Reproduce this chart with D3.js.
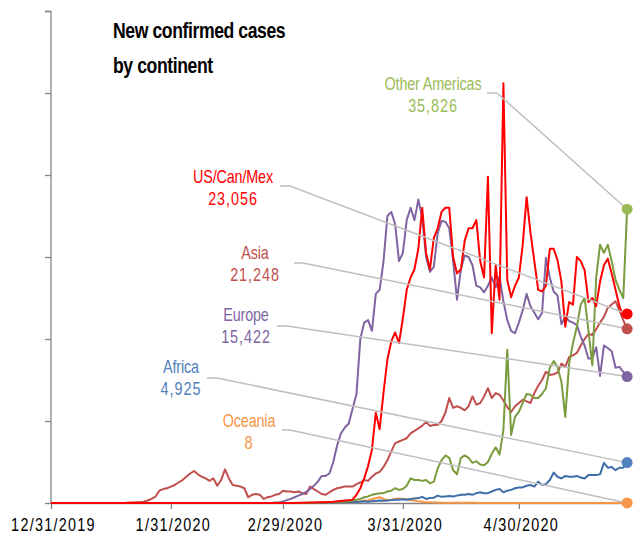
<!DOCTYPE html>
<html>
<head>
<meta charset="utf-8">
<script src="https://cdn.jsdelivr.net/npm/d3@7"></script>
<style>
body { margin: 0; background: #fff; }
svg { display: block; font-family: "Liberation Sans", Arial, sans-serif; }
</style>
</head>
<body>
<div id="chart"></div>
<script>
// daily new confirmed cases, 12/31/2019 .. 5/28/2020 (150 days)
var firstDay = "2019-12-31";
var tickDates = ["2019-12-31", "2020-01-31", "2020-02-29", "2020-03-31", "2020-04-30"];
var yTicks = [0, 10000, 20000, 30000, 40000, 50000, 60000];

var asia = [
  0,0,0,0,0,0,0,0,0,0, 0,0,0,0,0,0,0,0,0,0,
  50,50,100,100,150,300,500,770,1500,1700,
  1800,2000,2200,2500,2800,3200,3600,3900,3500,3200,
  3000,2700,3000,2100,2800,4100,3000,2200,2100,2000,
  1800,700,1000,1100,1000,500,700,800,1000,1100,
  1500,1400,1400,1300,1400,1200,1100,2000,1700,1400,
  1100,1000,1300,1600,1800,1900,2000,2000,2000,2300,
  2500,2800,2700,3200,3600,3800,4400,5200,6300,7300,
  7500,7700,7900,8500,8800,9100,9400,9900,9400,9500,
  9500,10000,11000,12800,11600,11800,11600,11300,11800,13000,
  12000,12200,13000,14000,12800,13400,13200,12500,11700,11100,
  11800,12200,12600,12400,12200,13400,14300,15000,16000,15600,
  15700,15900,17000,16600,17800,18000,18300,19200,20000,20600,
  20500,21200,22000,22700,23800,24200,24600,23500,22300,21248
];
var europe = [
  0,0,0,0,0,0,0,0,0,0, 0,0,0,0,0,0,0,0,0,0,
  0,0,0,0,0,0,0,0,0,0, 0,0,0,0,0,0,0,0,0,0,
  0,0,0,0,0,0,0,0,0,0, 0,0,0,0,0,0,0,0,50,100,
  200,350,500,700,900,1100,1350,1700,2100,2600,
  3300,3300,3600,5000,7000,8500,9200,9700,11500,13300,
  20000,22000,22300,21000,25500,26000,29500,35000,35500,34000,
  29500,30500,34500,36000,34500,37000,34800,30000,28200,28800,
  32900,34400,34300,33500,29500,24800,28500,30200,30000,29000,
  26500,26300,25700,26500,27500,26300,27600,24600,22300,21000,
  20700,22000,23500,25500,24000,23200,22400,23200,29900,27500,
  25800,25300,21800,22700,22200,22000,21700,20300,19200,17600,
  17700,19000,15500,19200,18900,18500,16500,16600,16000,15422
];
var usCanMex = [
  0,0,0,0,0,0,0,0,0,0, 0,0,0,0,0,0,0,0,0,0,
  0,0,0,0,0,0,0,0,0,0, 0,0,0,0,0,0,0,0,0,0,
  0,0,0,0,0,0,0,0,0,0, 0,0,0,0,0,0,0,0,0,0,
  0,0,0,0,20,30,40,50,60,80,
  100,100,120,150,200,250,300,350,400,1000,
  1800,3000,4500,6500,11000,9000,13500,17500,19700,20800,
  19500,22500,26000,27500,28500,31000,36000,30500,28500,32300,
  33500,35500,36000,36000,30000,28000,28500,32000,33500,33500,
  34500,29500,27500,39800,20700,29000,24800,51200,27200,25100,
  26500,27500,31500,37300,33000,29500,26000,25800,26500,31000,
  31000,29600,27000,21500,24500,24200,30000,29500,28400,24500,
  25000,24000,27000,29000,29800,28000,26000,24000,22700,23056
];
var otherAmericas = [
  0,0,0,0,0,0,0,0,0,0, 0,0,0,0,0,0,0,0,0,0,
  0,0,0,0,0,0,0,0,0,0, 0,0,0,0,0,0,0,0,0,0,
  0,0,0,0,0,0,0,0,0,0, 0,0,0,0,0,0,0,0,0,0,
  0,0,0,0,0,10,20,30,30,40,
  50,60,80,100,120,150,180,200,300,400,
  500,700,800,1000,1100,1200,1200,1400,1500,1800,
  1600,1700,2100,3000,2800,2800,2700,2800,2400,2600,
  4200,5200,5800,5500,4000,3500,5500,5800,5500,4900,
  5100,4700,4600,5000,6000,6800,5900,8900,18700,8300,
  10500,11100,12200,13300,13200,12800,12800,13300,14000,16500,
  17300,16600,14800,10500,17000,19500,21500,24200,25000,21000,
  16800,27500,31500,30500,31500,29500,27200,26000,25000,35826
];
var africa = [
  0,0,0,0,0,0,0,0,0,0, 0,0,0,0,0,0,0,0,0,0,
  0,0,0,0,0,0,0,0,0,0, 0,0,0,0,0,0,0,0,0,0,
  0,0,0,0,0,0,0,0,0,0, 0,0,0,0,0,0,0,0,0,0,
  0,0,0,0,0,0,0,0,0,0,
  10,20,30,40,50,60,80,100,100,120,
  150,200,150,200,250,300,280,300,350,400,
  400,450,400,500,550,600,750,500,600,650,
  900,750,800,850,800,900,1000,1000,1100,1000,
  1200,1300,1200,1200,1400,1600,1700,1300,1500,1600,
  1800,1900,1900,2100,2200,2000,2600,2200,2300,2800,
  3700,3200,3000,3300,3200,3200,3300,3100,3000,3400,
  3400,3400,3500,4900,4300,4400,4000,4300,4300,4925
];
var oceania = [
  0,0,0,0,0,0,0,0,0,0, 0,0,0,0,0,0,0,0,0,0,
  0,0,0,0,0,0,0,0,0,0, 0,0,0,0,0,0,0,0,0,0,
  0,0,0,0,0,0,0,0,0,0, 0,0,0,0,0,0,0,0,0,0,
  0,0,0,0,0,0,0,0,0,0,
  20,30,40,50,60,70,80,90,100,150,
  200,300,350,450,600,700,500,350,400,500,
  550,500,450,350,300,200,150,100,80,60,
  50,40,40,30,30,20,20,20,20,20,
  20,15,15,15,15,10,10,10,10,10,
  10,10,10,10,10,10,10,10,10,10,
  10,10,10,10,10,10,10,10,10,10,
  10,10,10,10,10,10,10,10,10,8
];

var seriesNames = ["Oceania", "Africa", "Asia", "Europe", "Other Americas", "US/Can/Mex"];
var seriesValues = [oceania, africa, asia, europe, otherAmericas, usCanMex];

var lineColor = {
  "Oceania": "#F79646", "Africa": "#3E6DAA", "Asia": "#C0504D",
  "Europe": "#8064A2", "Other Americas": "#7A9B3E", "US/Can/Mex": "#FF0000"
};
var labelColor = {
  "Oceania": "#F79646", "Africa": "#4F81BD", "Asia": "#C0504D",
  "Europe": "#8064A2", "Other Americas": "#9BBB59", "US/Can/Mex": "#FF0000"
};
// label placement: text centre, first baseline, leader start / bend
var labelPos = {
  "Other Americas": {x: 433, y: 90, lx: 487, bx: 497, ly: 93},
  "US/Can/Mex": {x: 233, y: 183, lx: 280, bx: 290, ly: 186},
  "Asia": {x: 255, y: 259, lx: 294, bx: 303, ly: 263},
  "Europe": {x: 246, y: 321, lx: 277, bx: 287, ly: 326},
  "Africa": {x: 181, y: 373, lx: 207, bx: 217, ly: 378},
  "Oceania": {x: 249, y: 427, lx: 282, bx: 290, ly: 430}
};

var width = 636, height = 538;
var narrow = 0.8;   // no narrow font installed, squeeze Liberation Sans instead
var parse = d3.utcParse("%Y-%m-%d");
var start = parse(firstDay);
var dates = asia.map((d, i) => d3.utcDay.offset(start, i));

var svg = d3.select("#chart").append("svg")
  .attr("width", width).attr("height", height);

function narrowText(parent, x, y, str, size, anchor) {
  return parent.append("text")
    .attr("transform", "translate(" + x + "," + y + ") scale(" + narrow + ",1)")
    .attr("text-anchor", anchor || "middle")
    .style("font-size", size + "px")
    .text(str);
}

var x = d3.scaleUtc()
  .domain([start, d3.utcDay.offset(start, 150)])
  .range([51, 631]);
var y = d3.scaleLinear().domain([0, 60000]).range([503, 11]);

// y axis (no labels)
var yAxis = svg.append("g").attr("transform", "translate(51,0)")
  .call(d3.axisLeft(y).tickValues(yTicks).tickSize(6).tickFormat(""));
yAxis.select(".domain").attr("stroke", "#868686").attr("stroke-width", 1.3).attr("d", "M-6,11.5H0V503");
yAxis.selectAll(".tick line").attr("stroke", "#868686").attr("stroke-width", 1.3);

// x axis
var xAxis = svg.append("g").attr("transform", "translate(0,503)")
  .call(d3.axisBottom(x).tickValues(tickDates.map(parse)).tickSize(6)
    .tickSizeOuter(0).tickFormat(d3.utcFormat("%-m/%-d/%Y")));
xAxis.select(".domain").attr("stroke", "#868686").attr("stroke-width", 1.3);
xAxis.selectAll(".tick line").attr("stroke", "#868686").attr("stroke-width", 1.3);
xAxis.selectAll(".tick text")
  .attr("y", 0).attr("dy", null).attr("fill", "#000")
  .attr("transform", "translate(2,28) scale(" + narrow + ",1)")
  .style("font-family", "'Liberation Sans',Arial,sans-serif")
  .style("font-size", "18px").style("letter-spacing", "1.6px");

// lines
var line = d3.line().x((d, i) => x(dates[i])).y(d => y(d));
seriesNames.forEach(function (name, k) {
  svg.append("path")
    .datum(seriesValues[k])
    .attr("fill", "none")
    .attr("stroke", lineColor[name])
    .attr("stroke-width", 2)
    .attr("stroke-linejoin", "round")
    .attr("d", line);
});

// leaders, end dots and labels
var fmt = d3.format(",");
seriesNames.forEach(function (name, k) {
  var vals = seriesValues[k];
  var last = vals.length - 1;
  var ex = x(dates[last]), ey = y(vals[last]);
  var p = labelPos[name];
  svg.append("path")
    .attr("d", "M" + p.lx + "," + p.ly + "H" + p.bx + "L" + ex + "," + ey)
    .attr("fill", "none").attr("stroke", "#BFBFBF").attr("stroke-width", 1.5);
  svg.append("circle").attr("cx", ex).attr("cy", ey).attr("r", 5.5)
    .attr("fill", labelColor[name]);
  narrowText(svg, p.x, p.y, name, 18).attr("fill", labelColor[name])
    .style("letter-spacing", "-0.2px");
  narrowText(svg, p.x, p.y + 22, fmt(vals[last]), 18).attr("fill", labelColor[name])
    .style("letter-spacing", "1.2px");
});

// title
narrowText(svg, 113, 38, "New confirmed cases", 22, "start")
  .attr("fill", "#000").style("font-weight", "bold").style("letter-spacing", "-0.5px");
narrowText(svg, 113, 73, "by continent", 22, "start")
  .attr("fill", "#000").style("font-weight", "bold").style("letter-spacing", "-0.5px");
</script>
</body>
</html>
